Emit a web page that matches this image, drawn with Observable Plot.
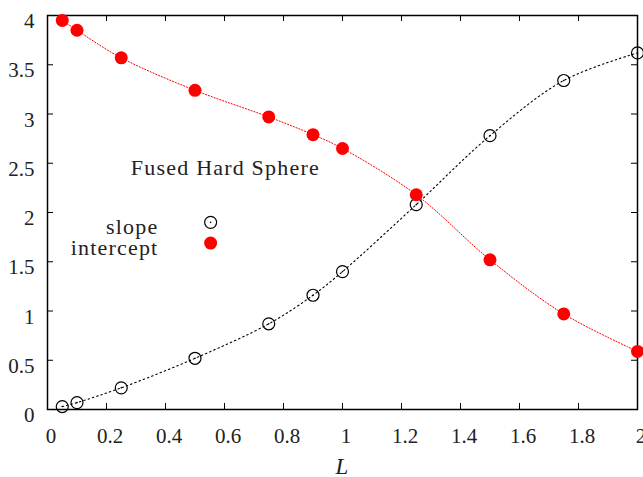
<!DOCTYPE html>
<html><head><meta charset="utf-8">
<script src="https://cdn.jsdelivr.net/npm/d3@7"></script>
<script src="https://cdn.jsdelivr.net/npm/@observablehq/plot@0.6"></script>
<style>
html,body{margin:0;padding:0;background:#fff;}
svg{font-family:"Liberation Serif",serif;}
</style>
</head><body>
<div id="chart"></div>
<script>
const L = [0.05, 0.1, 0.25, 0.5, 0.75, 0.9, 1.0, 1.25, 1.5, 1.75, 2.0];
const slope = [0.03, 0.07, 0.22, 0.52, 0.87, 1.16, 1.40, 2.08, 2.78, 3.34, 3.62];
const intercept = [3.95, 3.85, 3.57, 3.24, 2.97, 2.79, 2.65, 2.18, 1.52, 0.97, 0.59];
const xTicks = [0, 0.2, 0.4, 0.6, 0.8, 1, 1.2, 1.4, 1.6, 1.8, 2];
const yTicks = [0, 0.5, 1, 1.5, 2, 2.5, 3, 3.5, 4];
const xLabel = "L";
const title = "Fused Hard Sphere";
const legendNames = ["slope", "intercept"];
// legend anchor positions (data units)
const legendX = [0.376, 0.553];
const legendY = [1.90, 1.69];
const titlePos = [0.603, 2.45];

const slopeData = L.map((x, i) => ({x, y: slope[i]}));
const interceptData = L.map((x, i) => ({x, y: intercept[i]}));
const legendData = legendNames.map((n, i) => ({n, y: legendY[i]}));

const W = 643, H = 477, mL = 47, mR = 6, mT = 15, mB = 68;
const pW = W - mL - mR, pH = H - mT - mB, tk = 6;

const chart = Plot.plot({
  width: W, height: H,
  marginLeft: mL, marginRight: mR, marginTop: mT, marginBottom: mB,
  x: {domain: [0, 2]},
  y: {domain: [0, 4]},
  style: {fontFamily: "Liberation Serif, serif", color: "#222", background: "#fff"},
  marks: [
    Plot.axisX(xTicks, {tickSize: 0, tickPadding: 19, dx: 3.5, fontSize: 21, tickFormat: d => String(d), label: null}),
    Plot.axisY(yTicks, {tickSize: 0, tickPadding: 13, dy: 6, fontSize: 21, tickFormat: d => String(d), label: null}),
    Plot.ruleX(xTicks, {x: d => d, insetTop: pH - tk, stroke: "#000"}),
    Plot.ruleX(xTicks, {x: d => d, insetBottom: pH - tk, stroke: "#000"}),
    Plot.ruleY(yTicks, {y: d => d, insetRight: pW - tk, stroke: "#000"}),
    Plot.ruleY(yTicks, {y: d => d, insetLeft: pW - tk, stroke: "#000"}),
    Plot.frame({stroke: "#000", strokeWidth: 1.5}),
    Plot.line(slopeData, {x: "x", y: "y", curve: "catmull-rom", stroke: "#000", strokeWidth: 1.1, strokeDasharray: "1.5,3"}),
    Plot.line(interceptData, {x: "x", y: "y", curve: "catmull-rom", stroke: "#f00", strokeWidth: 1, strokeDasharray: "1.2,1.8"}),
    Plot.dot(slopeData, {x: "x", y: "y", r: 6, stroke: "#000", strokeWidth: 1.2, fill: "none"}),
    Plot.dot(slopeData, {x: "x", y: "y", r: 0.8, fill: "#000", stroke: "none"}),
    Plot.dot(interceptData, {x: "x", y: "y", r: 6.5, fill: "#f00", stroke: "none"}),
    // legend
    Plot.text(legendData, {x: legendX[0], y: "y", dy: 5, text: "n", textAnchor: "end", fontSize: 22, fill: "#222"}),
    Plot.dot([legendData[0]], {x: legendX[1], y: "y", r: 6, stroke: "#000", strokeWidth: 1.2, fill: "none"}),
    Plot.dot([legendData[0]], {x: legendX[1], y: "y", r: 0.8, fill: "#000", stroke: "none"}),
    Plot.dot([legendData[1]], {x: legendX[1], y: "y", r: 6.5, fill: "#f00", stroke: "none"}),
    Plot.text([title], {x: titlePos[0], y: titlePos[1], text: d => d, fontSize: 22, fill: "#222", textAnchor: "middle"}),
    Plot.text([xLabel], {frameAnchor: "bottom", dy: 64, text: d => d, fontSize: 23, fontStyle: "italic", fill: "#222"})
  ]
});
d3.select(chart).selectAll("g[aria-label='text'] text").style("letter-spacing", "1.2px");
document.getElementById("chart").appendChild(chart);
</script>
</body></html>
